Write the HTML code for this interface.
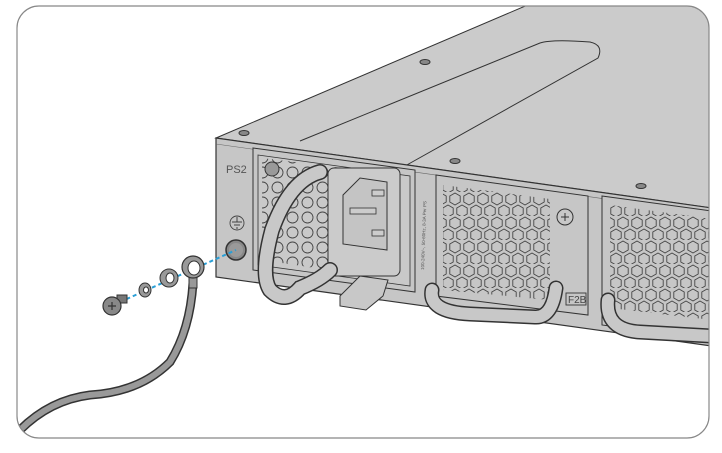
<!DOCTYPE html>
<html><head><meta charset="utf-8"><style>html,body{margin:0;padding:0;background:#fff}svg{display:block}</style></head>
<body>
<svg width="722" height="453" viewBox="0 0 722 453" xmlns="http://www.w3.org/2000/svg">
<defs>
<pattern id="hex" width="14" height="24" patternUnits="userSpaceOnUse">
<polygon points="7,1 12.2,4 12.2,10 7,13 1.8,10 1.8,4" fill="none" stroke="#444" stroke-width="0.9"/>
<polygon points="0,13 5.2,16 5.2,22 0,25 -5.2,22 -5.2,16" fill="none" stroke="#444" stroke-width="0.9"/>
<polygon points="14,13 19.2,16 19.2,22 14,25 8.8,22 8.8,16" fill="none" stroke="#444" stroke-width="0.9"/>
</pattern>
<pattern id="circ" width="15" height="15" patternUnits="userSpaceOnUse">
<circle cx="7.5" cy="7.5" r="5.5" fill="none" stroke="#444" stroke-width="0.9"/>
</pattern>
<clipPath id="frame"><rect x="17" y="6" width="692" height="432" rx="22"/></clipPath>
</defs>
<g clip-path="url(#frame)">
<polygon points="216,138 530,4 712,4 712,208" fill="#cbcbcb" stroke="#333" stroke-width="1"/>
<path d="M300,141 L540,43 Q552,39 590,42 Q604,45 598,58 L405,166" fill="#cbcbcb" stroke="#333" stroke-width="1"/>
<polygon points="216,138 712,208 712,346 216,277" fill="#c6c6c6" stroke="#333" stroke-width="1.2"/>
<line x1="216" y1="144" x2="712" y2="214" stroke="#666" stroke-width="0.6"/>
<ellipse cx="244" cy="133" rx="5" ry="2.5" fill="#888" stroke="#333"/>
<ellipse cx="455" cy="161" rx="5" ry="2.5" fill="#888" stroke="#333"/>
<ellipse cx="425" cy="62" rx="5" ry="2.5" fill="#888" stroke="#333"/>
<ellipse cx="641" cy="186" rx="5" ry="2.5" fill="#888" stroke="#333"/>
<text x="226" y="173" font-family="Liberation Sans, sans-serif" font-size="11" fill="#555">PS2</text>
<circle cx="237" cy="223" r="7" fill="none" stroke="#444" stroke-width="0.9"/>
<line x1="237" y1="217" x2="237" y2="222" stroke="#444"/><line x1="232" y1="222" x2="242" y2="222" stroke="#444"/><line x1="234" y1="225" x2="240" y2="225" stroke="#444"/><line x1="236" y1="228" x2="238" y2="228" stroke="#444"/>
<circle cx="236" cy="250" r="10" fill="#888" stroke="#333" stroke-width="1.5"/>
<circle cx="236" cy="250" r="7" fill="#9a9a9a"/>
<polygon points="253,148 415,170 415,292 253,270" fill="#c6c6c6" stroke="#333" stroke-width="1"/>
<polygon points="258,155 410,176 410,286 258,265" fill="#c9c9c9" stroke="#333" stroke-width="0.8"/>
<polygon points="262,158 342,168 342,272 262,260" fill="url(#circ)"/>
<circle cx="272" cy="169" r="7" fill="#999" stroke="#333"/>
<rect x="328" y="168" width="72" height="108" rx="6" fill="#cbcbcb" stroke="#333" stroke-width="1"/>
<polygon points="343,195 360,178 387,182 387,250 343,244" fill="#c4c4c4" stroke="#333" stroke-width="1"/>
<rect x="350" y="208" width="26" height="6" fill="#ccc" stroke="#333" stroke-width="0.8"/>
<rect x="372" y="190" width="12" height="6" fill="#ccc" stroke="#333" stroke-width="0.8"/>
<rect x="372" y="230" width="12" height="6" fill="#ccc" stroke="#333" stroke-width="0.8"/>
<path d="M320,172 Q290,180 272,230 Q260,275 270,290 Q285,305 300,288 Q320,280 330,270" fill="none" stroke="#333" stroke-width="16" stroke-linecap="round"/>
<path d="M320,172 Q290,180 272,230 Q260,275 270,290 Q285,305 300,288 Q320,280 330,270" fill="none" stroke="#c8c8c8" stroke-width="13" stroke-linecap="round"/>
<polygon points="340,296 360,276 388,280 383,296 366,310 340,306" fill="#c8c8c8" stroke="#333" stroke-width="1"/>
<text x="424" y="270" font-family="Liberation Sans, sans-serif" font-size="4.5" fill="#555" transform="rotate(-88 424 270)">100-240V~, 50-60Hz, 8-3A Per PS</text>
<polygon points="436,175 588,196 588,315 436,296" fill="#c6c6c6" stroke="#333" stroke-width="1"/>
<polygon points="443,185 550,199 550,300 443,290" fill="url(#hex)"/>
<circle cx="565" cy="217" r="8" fill="#c8c8c8" stroke="#333"/>
<line x1="561" y1="217" x2="569" y2="217" stroke="#333"/><line x1="565" y1="213" x2="565" y2="221" stroke="#333"/>
<rect x="566" y="293" width="20" height="12" fill="none" stroke="#333" stroke-width="0.9"/>
<text x="568" y="303" font-family="Liberation Sans, sans-serif" font-size="10" fill="#444">F2B</text>
<path d="M432,290 Q428,312 470,314 L535,317 Q552,318 556,288" fill="none" stroke="#333" stroke-width="15" stroke-linecap="round"/>
<path d="M432,290 Q428,312 470,314 L535,317 Q552,318 556,288" fill="none" stroke="#c8c8c8" stroke-width="12" stroke-linecap="round"/>
<polygon points="602,196 712,211 712,340 602,325" fill="#c6c6c6" stroke="#333" stroke-width="1"/>
<polygon points="610,205 712,219 712,320 610,308" fill="url(#hex)"/>
<path d="M608,300 Q605,330 640,332 L712,336" fill="none" stroke="#333" stroke-width="15" stroke-linecap="round"/>
<path d="M608,300 Q605,330 640,332 L712,336" fill="none" stroke="#c8c8c8" stroke-width="12" stroke-linecap="round"/>
<path d="M193,283 Q190,330 170,362 Q140,392 90,395 Q50,400 20,430" fill="none" stroke="#333" stroke-width="9"/>
<path d="M193,283 Q190,330 170,362 Q140,392 90,395 Q50,400 20,430" fill="none" stroke="#999" stroke-width="6"/>
</g>
<rect x="17" y="6" width="692" height="432" rx="22" fill="none" stroke="#888" stroke-width="1.2"/>
<line x1="120" y1="302" x2="236" y2="250" stroke="#2a9fd6" stroke-width="2" stroke-dasharray="4,3"/>
<rect x="189" y="272" width="8" height="16" fill="#999" stroke="#333"/>
<ellipse cx="193" cy="267" rx="11" ry="11" fill="#999" stroke="#333" stroke-width="1.2"/>
<ellipse cx="194" cy="268" rx="6" ry="7" fill="#fff" stroke="#333"/>
<ellipse cx="169" cy="278" rx="9" ry="9" fill="#999" stroke="#333"/>
<ellipse cx="170" cy="278" rx="4" ry="5" fill="#fff" stroke="#333"/>
<ellipse cx="145" cy="290" rx="6" ry="7" fill="#999" stroke="#333"/>
<ellipse cx="146" cy="290" rx="2.5" ry="3" fill="#fff" stroke="#333"/>
<rect x="117" y="295" width="10" height="8" fill="#777" stroke="#333"/>
<circle cx="112" cy="306" r="9" fill="#888" stroke="#333" stroke-width="1.2"/>
<path d="M108,306 L116,306 M112,302 L112,310" stroke="#333" stroke-width="1.2"/>
</svg>
</body></html>
